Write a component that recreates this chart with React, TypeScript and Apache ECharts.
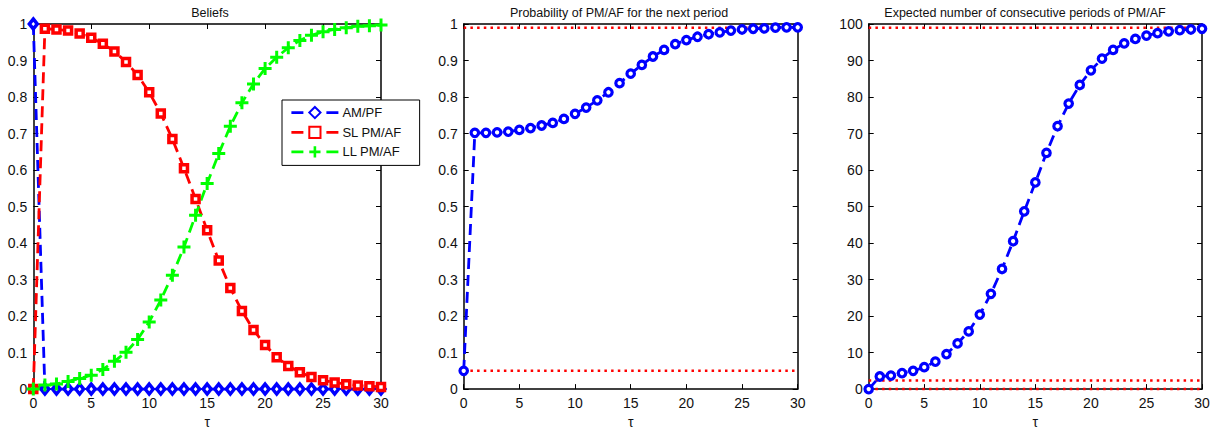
import React, { useEffect, useRef } from "react";
import * as echarts from "echarts";

const tau = [0, 1, 2, 3, 4, 5, 6, 7, 8, 9, 10, 11, 12, 13, 14, 15, 16, 17, 18, 19, 20, 21, 22, 23, 24, 25, 26, 27, 28, 29, 30];

const amPf = [1, 0, 0, 0, 0, 0, 0, 0, 0, 0, 0, 0, 0, 0, 0, 0, 0, 0, 0, 0, 0, 0, 0, 0, 0, 0, 0, 0, 0, 0, 0];
const slPmAf = [0, 0.987, 0.985, 0.982, 0.974, 0.962, 0.946, 0.925, 0.896, 0.86, 0.813, 0.755, 0.685, 0.605, 0.521, 0.435, 0.352, 0.277, 0.214, 0.162, 0.121, 0.087, 0.063, 0.046, 0.033, 0.024, 0.018, 0.0135, 0.01, 0.008, 0.006];
const llPmAf = [0, 0.011, 0.014, 0.021, 0.029, 0.038, 0.054, 0.076, 0.101, 0.136, 0.184, 0.244, 0.312, 0.389, 0.476, 0.563, 0.645, 0.72, 0.784, 0.836, 0.878, 0.909, 0.935, 0.955, 0.969, 0.979, 0.985, 0.99, 0.994, 0.995, 0.997];

const probNext = [0.05, 0.702, 0.702, 0.703, 0.705, 0.71, 0.715, 0.722, 0.729, 0.74, 0.754, 0.771, 0.791, 0.813, 0.838, 0.864, 0.888, 0.911, 0.929, 0.945, 0.956, 0.965, 0.972, 0.977, 0.982, 0.985, 0.987, 0.988, 0.99, 0.991, 0.991];
const probBounds = [0.99, 0.05];

const expectedRun = [0, 3.45, 3.7, 4.4, 5.0, 6.0, 7.5, 9.6, 12.5, 15.8, 20.4, 26.1, 32.9, 40.5, 48.7, 56.6, 64.7, 72, 78.2, 83.3, 87.3, 90.5, 92.9, 94.7, 95.9, 96.8, 97.5, 98.0, 98.3, 98.5, 98.7];
const runBounds = [99, 2.33, 0.05];

const titles = ["Beliefs", "Probability of PM/AF for the next period", "Expected number of consecutive periods of PM/AF"];
const xName = "τ";
const xRange = [0, 30, 5];
const yRanges = [
  [0, 1, 0.1],
  [0, 1, 0.1],
  [0, 100, 10],
];
const legendNames = ["AM/PF", "SL PM/AF", "LL PM/AF"];

const FONT = '"Liberation Sans", Arial, Helvetica, sans-serif';
const BLUE = "#0000ff";
const RED = "#ff0000";
const GREEN = "#00ff00";
const PLUS = "path://M5,0H8V5H13V8H8V13H5V8H0V5H5Z";
const TXT = "#111";

const grids = [
  { left: 33.3, top: 24, width: 347.7, height: 368.7 },
  { left: 463.7, top: 24, width: 334, height: 368.7 },
  { left: 868.7, top: 24, width: 333.3, height: 368.7 },
];
const titleCenters = [205, 614, 1020];

function zip(xs: number[], ys: number[]) {
  return xs.map((x, i) => [x, ys[i]]);
}

export default function App() {
  const ref = useRef<HTMLDivElement>(null);
  useEffect(() => {
    if (!ref.current) return;
    const chart = echarts.init(ref.current, undefined, { renderer: "svg" });
    const xAxis: any[] = [];
    const yAxis: any[] = [];
    grids.forEach((g, i) => {
      const base = {
        gridIndex: i,
        type: "value",
        min: xRange[0],
        max: xRange[1],
        interval: xRange[2],
        splitLine: { show: false },
        axisLine: { show: true, onZero: false, lineStyle: { color: "#000", width: 1.5 } },
        axisTick: { show: true, inside: true, length: 5, lineStyle: { color: "#000", width: 1 } },
      };
      xAxis.push({
        ...base,
        position: "bottom",
        name: xName,
        nameLocation: "middle",
        nameGap: 25,
        nameTextStyle: { fontFamily: FONT, fontSize: 14, color: TXT },
        axisLabel: { fontFamily: FONT, fontSize: 14, color: TXT, margin: 7 },
      });
      xAxis.push({ ...base, position: "top", axisLabel: { show: false } });
      const yr = yRanges[i];
      const ybase = {
        gridIndex: i,
        type: "value",
        min: yr[0],
        max: yr[1],
        interval: yr[2],
        splitLine: { show: false },
        axisLine: { show: true, onZero: false, lineStyle: { color: "#000", width: 1.5 } },
        axisTick: { show: true, inside: true, length: 5, lineStyle: { color: "#000", width: 1 } },
      };
      yAxis.push({
        ...ybase,
        position: "left",
        axisLabel: { fontFamily: FONT, fontSize: 14, color: TXT, margin: 6 },
      });
      yAxis.push({ ...ybase, position: "right", axisLabel: { show: false } });
    });

    const dashed = (color: string) => ({ color, width: 2.8, type: [11, 6] });
    const dotted = { color: RED, width: 2.5, type: [2.5, 4.2] };

    const series: any[] = [
      {
        name: legendNames[0],
        type: "line",
        xAxisIndex: 0,
        yAxisIndex: 0,
        data: zip(tau, amPf),
        symbol: "diamond",
        symbolSize: [8, 10],
        lineStyle: dashed(BLUE),
        itemStyle: { color: "#fff", borderColor: BLUE, borderWidth: 3.5 },
        clip: false,
      },
      {
        name: legendNames[1],
        type: "line",
        xAxisIndex: 0,
        yAxisIndex: 0,
        data: zip(tau, slPmAf),
        symbol: "rect",
        symbolSize: 7,
        lineStyle: dashed(RED),
        itemStyle: { color: "#fff", borderColor: RED, borderWidth: 3.5 },
        clip: false,
      },
      {
        name: legendNames[2],
        type: "line",
        xAxisIndex: 0,
        yAxisIndex: 0,
        data: zip(tau, llPmAf),
        symbol: PLUS,
        symbolSize: 13,
        lineStyle: dashed(GREEN),
        itemStyle: { color: GREEN },
        clip: false,
      },
    ];
    probBounds.forEach((b) => {
      series.push({
        type: "line",
        xAxisIndex: 2,
        yAxisIndex: 2,
        data: [[xRange[0], b], [xRange[1], b]],
        symbol: "none",
        lineStyle: dotted,
        silent: true,
        clip: false,
      });
    });
    series.push({
      type: "line",
      xAxisIndex: 2,
      yAxisIndex: 2,
      data: zip(tau, probNext),
      symbol: "circle",
      symbolSize: 7.5,
      lineStyle: dashed(BLUE),
      itemStyle: { color: "#fff", borderColor: BLUE, borderWidth: 3.2 },
      clip: false,
    });
    runBounds.forEach((b) => {
      series.push({
        type: "line",
        xAxisIndex: 4,
        yAxisIndex: 4,
        data: [[xRange[0], b], [xRange[1], b]],
        symbol: "none",
        lineStyle: dotted,
        silent: true,
        clip: false,
      });
    });
    series.push({
      type: "line",
      xAxisIndex: 4,
      yAxisIndex: 4,
      data: zip(tau, expectedRun),
      symbol: "circle",
      symbolSize: 7.5,
      lineStyle: dashed(BLUE),
      itemStyle: { color: "#fff", borderColor: BLUE, borderWidth: 3.2 },
      clip: false,
    });

    chart.setOption({
      animation: false,
      backgroundColor: "#fff",
      title: titles.map((t, i) => ({
        text: t,
        left: titleCenters[i],
        top: 1,
        textAlign: "center",
        textStyle: { fontFamily: FONT, fontSize: 12.5, fontWeight: "normal", color: TXT },
      })),
      legend: {
        data: legendNames,
        orient: "vertical",
        left: 282,
        top: 100,
        padding: [6, 18, 7, 8],
        itemWidth: 47,
        itemHeight: 14,
        itemGap: 6.5,
        backgroundColor: "#fff",
        borderColor: "#000",
        borderWidth: 1,
        borderRadius: 0,
        lineStyle: { type: [12, 23], width: 2.8 },
        textStyle: { fontFamily: FONT, fontSize: 13, color: TXT, padding: [0, 0, 0, -1] },
      },
      grid: grids.map((g) => ({ ...g, containLabel: false })),
      xAxis,
      yAxis,
      series,
    });
    return () => chart.dispose();
  }, []);
  return (
    <div
      ref={ref}
      style={{ position: "absolute", left: 0, top: 0, width: 1215, height: 434, background: "#fff" }}
    />
  );
}
